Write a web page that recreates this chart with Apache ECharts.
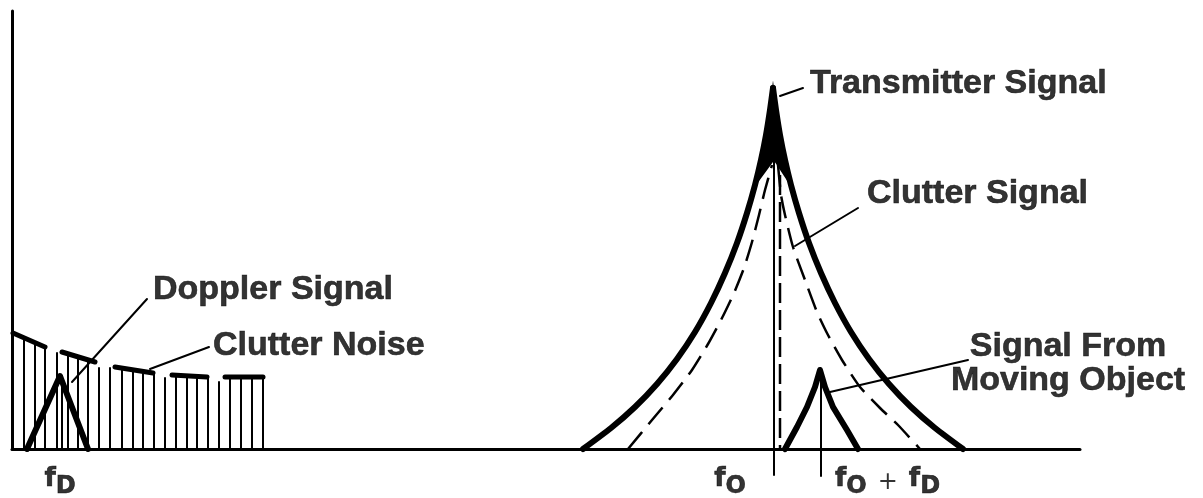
<!DOCTYPE html>
<html><head><meta charset="utf-8">
<script src="https://cdn.jsdelivr.net/npm/echarts@6/dist/echarts.min.js"></script>
<style>html,body{margin:0;padding:0;background:#fff}#c{width:1203px;height:498px}</style>
</head><body><div id="c"></div>
<script>
// ---- data (frequency units along x, amplitude units along y) ----
const noiseFreq = [12,23,33,45,56,66,76,87,98,110,121,131,142,153,164,175,185,196,207,218,229,240,251];
const noiseAmp  = [111,107,101,96,94,92,89,81,81,81,79,77,76,71,73,73,73,72,67,72,72,72,72];
// clutter-noise envelope dashes: [f0, a0, f1, a1]
const envelopeDashes = [[1,116,33,102],[50,97,83,87],[103,82,141,76],[160,74,195,72],[213,72,251,72]];

const dopplerFreq = [15,48,76];
const dopplerAmp  = [0,73,0];
const dopplerCenterFreq = 50;

const txLeftFreq  = [571,599,623,645,665,683,699,713,725,735,743,749,754,758,761];
const txLeftAmp   = [0,21,42,65,90,117,146,176,206,236,264,289,314,339,361];
const txRightFreq = [761,764,768,773,779,787,797,809,823,839,857,877,899,923,951];
const txRightAmp  = [361,339,314,289,264,236,206,176,146,117,90,65,42,21,0];
// the spectral lines merge into a solid wedge above these levels
const txMergeEdgeAmp = 255;
const txMergeCenterAmp = 290;

const clutterLeftFreq  = [616,640,661,680,696,710,722,732,740,747,753,760];
const clutterLeftAmp   = [0,29,54,79,105,131,156,181,207,234,259,284];
const clutterRightFreq = [766,769,773,781,793,805,816,830,848,868,886,908];
const clutterRightAmp  = [284,254,234,202,169,137,114,89,62,41,24,0];
const clutterCenterFreq = 768;
const clutterCenterAmp = [0,274];

const f0Freq = 762;
const f0Amp = [-26,361];

const movingFreq = [773,785,795,803,808,813,821,835,846];
const movingAmp  = [0,22,42,62,79,62,42,19,0];
const movingCenterFreq = 809;
const movingCenterAmp = [-27,79];

// leader lines: [f0, a0, f1, a1]
const leaders = [[768,353,791,361],[783,203,846,241],[60,67,135,150],[138,80,197,102],[818,57,956,89]];

const labelTexts = ['Transmitter Signal','Clutter Signal','Doppler Signal','Clutter Noise','Signal From','Moving Object'];
const labelFreq  = [798,855,141,201,1056,1056];
const labelAmp   = [365,255,159,103,102,68];
const labelCentered = [false,false,false,false,true,true];

const markerTexts = ['{f|f}{s|D}','{f|f}{s|O}','{f|f}{s|O}{p|+}{f|f}{s|D}'];
const markerFreq  = [48,718,823];
const markerAmp   = [-30,-30,-30];
const markerCentered = [true,true,false];

// ---- chart ----
const zip = (xs, ys) => xs.map((x, i) => [x, ys[i]]);
const black = '#000';

function segSeries(data, width, extra) {
  return Object.assign({
    type: 'custom',
    data: data,
    encode: { x: [0, 2], y: [1, 3] },
    renderItem: function (params, api) {
      const p0 = api.coord([api.value(0), api.value(1)]);
      const p1 = api.coord([api.value(2), api.value(3)]);
      return { type: 'line', shape: { x1: p0[0], y1: p0[1], x2: p1[0], y2: p1[1] },
        style: { stroke: black, lineWidth: width, lineCap: 'round' } };
    },
    silent: true
  }, extra || {});
}

function lineSeries(data, width, dash, extra) {
  return Object.assign({
    type: 'line', data: data, showSymbol: false, symbol: 'none', clip: false, silent: true,
    lineStyle: { color: black, width: width, type: dash || 'solid', cap: dash ? 'butt' : 'round', join: 'round' }
  }, extra || {});
}

const noiseSegs = noiseFreq.map((f, i) => [f, 0, f, noiseAmp[i]]);

// solid wedge near the transmitter peak, built from the curve points above the merge level
const wedgePts = zip(txLeftFreq, txLeftAmp).filter(p => p[1] >= txMergeEdgeAmp)
  .concat(zip(txRightFreq, txRightAmp).filter(p => p[1] >= txMergeEdgeAmp))
  .concat([[f0Freq, txMergeCenterAmp]]);

const wedgeSeries = {
  type: 'custom', silent: true,
  data: [0],
  renderItem: function (params, api) {
    const pts = wedgePts.map(p => api.coord(p));
    return { type: 'polygon', shape: { points: pts, smooth: 0 }, style: { fill: black, stroke: black, lineWidth: 2 } };
  }
};

const txtBorder = { textBorderColor: black, textBorderWidth: 0.6 };

const series = [
  segSeries(noiseSegs, 2),
  segSeries(envelopeDashes, 5),
  lineSeries(zip(dopplerFreq, dopplerAmp), 6),
  segSeries([[dopplerCenterFreq, 0, dopplerCenterFreq, dopplerAmp[1]]], 2),
  lineSeries(zip(clutterLeftFreq, clutterLeftAmp), 2.5, [22, 10], { smooth: 0.2 }),
  lineSeries(zip(clutterRightFreq, clutterRightAmp), 2.5, [22, 10], { smooth: 0.2 }),
  lineSeries([[clutterCenterFreq, clutterCenterAmp[1]], [clutterCenterFreq, clutterCenterAmp[0]]], 2.5, [20, 7]),
  lineSeries([[f0Freq, f0Amp[1]], [f0Freq, f0Amp[0]]], 2),
  wedgeSeries,
  lineSeries(zip(txLeftFreq, txLeftAmp), 6, null, { smooth: 0.2 }),
  lineSeries(zip(txRightFreq, txRightAmp), 6, null, { smooth: 0.2 }),
  lineSeries(zip(movingFreq, movingAmp), 6),
  lineSeries([[movingCenterFreq, movingCenterAmp[1]], [movingCenterFreq, movingCenterAmp[0]]], 2),
  segSeries(leaders, 2),
  {
    type: 'scatter', symbolSize: 0, silent: true, clip: false,
    data: labelTexts.map((t, i) => ({
      value: [labelFreq[i], labelAmp[i]],
      label: Object.assign({ show: true, formatter: t, position: labelCentered[i] ? 'inside' : 'right', distance: 0,
        align: labelCentered[i] ? 'center' : 'left', verticalAlign: 'middle',
        fontFamily: 'Liberation Sans', fontWeight: 'bold', fontSize: 34, color: black }, txtBorder)
    }))
  },
  {
    type: 'scatter', symbolSize: 0, silent: true, clip: false,
    data: markerTexts.map((t, i) => ({
      value: [markerFreq[i], markerAmp[i]],
      label: { show: true, formatter: t, position: markerCentered[i] ? 'inside' : 'right', distance: 0,
        align: markerCentered[i] ? 'center' : 'left', verticalAlign: 'middle', color: black,
        rich: {
          f: Object.assign({ fontFamily: 'DejaVu Sans', fontWeight: 'bold', fontSize: 26, lineHeight: 26, verticalAlign: 'top', color: black }, txtBorder),
          s: Object.assign({ fontFamily: 'DejaVu Sans', fontWeight: 'bold', fontSize: 24, lineHeight: 24, verticalAlign: 'top', padding: [9, 0, 0, 0], color: black }, txtBorder),
          p: { fontFamily: 'DejaVu Sans', fontWeight: 'normal', fontSize: 24, lineHeight: 24, verticalAlign: 'top', padding: [5, 11, 0, 11], color: black }
        }
      }
    }))
  }
];

const chart = echarts.init(document.getElementById('c'), null, { renderer: 'canvas' });
chart.setOption({
  animation: false,
  backgroundColor: '#fff',
  grid: { left: 12, right: 123, top: 11, bottom: 49, containLabel: false },
  xAxis: { type: 'value', min: 0, max: 1068, axisLine: { show: true, onZero: false, lineStyle: { color: black, width: 3 } },
    axisTick: { show: false }, axisLabel: { show: false }, splitLine: { show: false } },
  yAxis: { type: 'value', min: 0, max: 438, axisLine: { show: true, onZero: false, lineStyle: { color: black, width: 3 } },
    axisTick: { show: false }, axisLabel: { show: false }, splitLine: { show: false } },
  series: series
});
</script>
</body></html>
